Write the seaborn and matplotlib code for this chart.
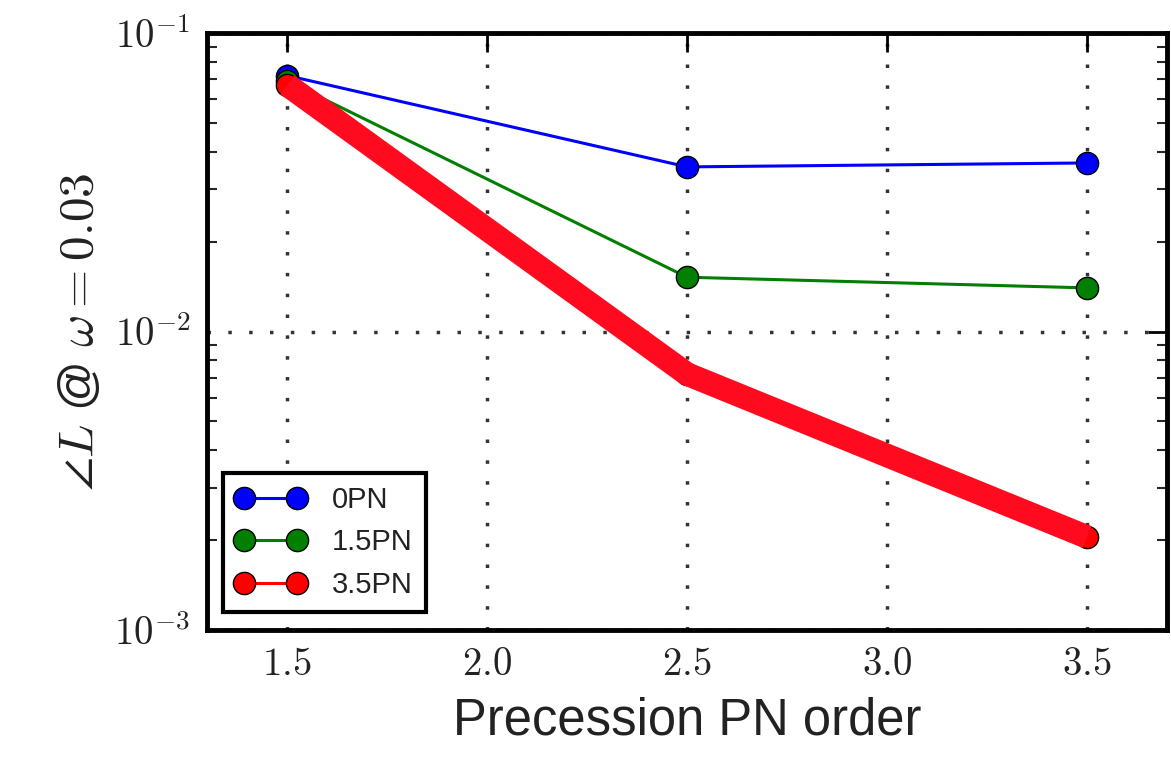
import matplotlib
matplotlib.use("Agg")
import matplotlib.pyplot as plt
import seaborn as sns
import numpy as np
import pandas as pd
from matplotlib.ticker import FixedLocator, FixedFormatter, LogLocator, NullFormatter

# ---- data ----
pn_order = [1.5, 2.5, 3.5]
series_labels = ["0PN", "1.5PN", "3.5PN"]
vals_0pn = [0.072, 0.0356, 0.0367]
vals_15pn = [0.069, 0.0152, 0.0140]
vals_35pn = [0.067, 0.0072, 0.00205]
series_colors = ["#0000ff", "#007f00", "#ff0000"]
xtick_vals = [1.5, 2.0, 2.5, 3.0, 3.5]
xtick_labels = ["$1.5$", "$2.0$", "$2.5$", "$3.0$", "$3.5$"]
ytick_vals = [1e-3, 1e-2, 1e-1]
ytick_labels = [r"$10^{-3}$", r"$10^{-2}$", r"$10^{-1}$"]

sns.set_style("white")
plt.rcParams["font.family"] = ["Liberation Sans", "DejaVu Sans"]
plt.rcParams["mathtext.fontset"] = "cm"

fig = plt.figure(figsize=(11.71, 7.60), dpi=100)
ax = fig.add_axes([0.177, 0.171, 0.8196, 0.7856])

all_vals = [vals_0pn, vals_15pn, vals_35pn]
for lab, vals, col in zip(series_labels, all_vals, series_colors):
    df = pd.DataFrame({"x": pn_order, "y": vals})
    sns.lineplot(data=df, x="x", y="y", ax=ax, color=col, marker="o",
                 markersize=16, markeredgecolor="black", markeredgewidth=1.0,
                 linewidth=2.2, label=lab, zorder=3)

# thick overlay of the 3.5PN curve
df35 = pd.DataFrame({"x": pn_order, "y": vals_35pn})
sns.lineplot(data=df35, x="x", y="y", ax=ax, color="#ff0a1e", linewidth=17,
             legend=False, zorder=4, solid_capstyle="butt")

ax.set_yscale("log")
ax.set_xlim(1.3, 3.7)
ax.set_ylim(1e-3, 1e-1)

ax.xaxis.set_major_locator(FixedLocator(xtick_vals))
ax.xaxis.set_major_formatter(FixedFormatter(xtick_labels))
ax.yaxis.set_major_locator(FixedLocator(ytick_vals))
ax.yaxis.set_major_formatter(FixedFormatter(ytick_labels))
ax.yaxis.set_minor_locator(LogLocator(base=10, subs=np.arange(2, 10)))
ax.yaxis.set_minor_formatter(NullFormatter())

ax.tick_params(axis="both", which="major", direction="in", length=14, width=2,
               labelsize=28, top=True, right=True, pad=12, colors="black")
ax.tick_params(axis="y", which="minor", direction="in", length=7, width=1.5,
               left=True, right=True)
for lbl in ax.get_xticklabels() + ax.get_yticklabels():
    lbl.set_color("#222222")

ax.grid(True, which="major", linestyle=(0, (1, 5)), color="black",
        linewidth=2.5, alpha=0.8)
for s in ax.spines.values():
    s.set_linewidth(3.5)
    s.set_color("black")
    s.set_visible(True)

ax.set_xlabel("Precession PN order", fontsize=36.5, color="#222222", labelpad=10)
ax.set_ylabel(r"$\angle L$ @ $\omega = 0.03$", fontsize=35.5, color="#222222",
              labelpad=8)

leg = ax.legend(loc="lower left", numpoints=2, fontsize=21, frameon=True,
                fancybox=False, framealpha=1, borderpad=0.45, handlelength=2.4,
                handletextpad=0.9, labelspacing=0.5, borderaxespad=0,
                bbox_to_anchor=(0.016, 0.03))
leg.get_frame().set_edgecolor("black")
leg.get_frame().set_linewidth(3)
for t in leg.get_texts():
    t.set_color("#222222")
for h in leg.legend_handles:
    h.set_markersize(16)

fig.savefig("out.png", dpi=100)
